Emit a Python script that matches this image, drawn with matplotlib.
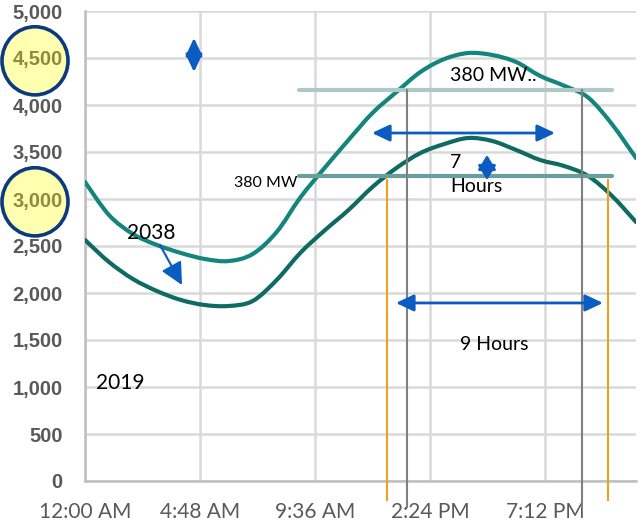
import matplotlib.pyplot as plt
import numpy as np
from matplotlib.path import Path
from matplotlib.patches import PathPatch, Ellipse

plt.rcParams['font.family'] = ['Lato', 'DejaVu Sans']

# hourly load (MW), hour of day 0..23
hours = np.arange(24)
load_2038 = [3181, 2830, 2628, 2511, 2426, 2362, 2340, 2415, 2649, 3020, 3330, 3628,
             3915, 4138, 4351, 4489, 4553, 4532, 4457, 4309, 4205, 4080, 3795, 3436]
load_2019 = [2564, 2330, 2149, 2021, 1926, 1872, 1862, 1915, 2138, 2430, 2665, 2883,
             3128, 3330, 3489, 3585, 3649, 3617, 3521, 3415, 3351, 3245, 3032, 2755]

# thresholds and the hours where the curves cross them
thresh_2038 = 4160
thresh_2019 = 3245
thresh_span = (8.93, 22.0)
cross_2038 = [13.44, 20.74]
cross_2019 = [12.6, 21.83]

xtick_hours = [0, 4.8, 9.6, 14.4, 19.2]
xtick_labels = ['12:00 AM', '4:48 AM', '9:36 AM', '2:24 PM', '7:12 PM']
yticks = list(range(0, 5001, 500))
highlight = [4500, 3000]

GRAY_TXT = '#595959'
BLUE = '#0b5cc2'


def smooth_path(x, y):
    # cubic bezier through the points, like a spreadsheet "smoothed line"
    pts = np.column_stack([x, y]).astype(float)
    n = len(pts)
    verts = [pts[0]]
    codes = [Path.MOVETO]
    for i in range(n - 1):
        p0 = pts[max(i - 1, 0)]
        p1 = pts[i]
        p2 = pts[i + 1]
        p3 = pts[min(i + 2, n - 1)]
        verts += [p1 + (p2 - p0) / 6, p2 - (p3 - p1) / 6, p2]
        codes += [Path.CURVE4] * 3
    return Path(verts, codes)


fig = plt.figure(figsize=(6.38, 5.25), dpi=100)
ax = fig.add_axes([85 / 638, 44 / 525, 551 / 638, 470 / 525])
ax.set_xlim(0, 23)
ax.set_ylim(0, 5000)

ax.set_xticks(xtick_hours, labels=xtick_labels)
ax.set_yticks(yticks, labels=[f'{v:,}' for v in yticks], fontweight='bold',
              family=['Liberation Sans', 'DejaVu Sans'])
ax.tick_params(axis='both', length=0)
ax.tick_params(axis='x', pad=15, labelsize=15, labelcolor=GRAY_TXT)
ax.tick_params(axis='y', pad=16, labelsize=14.5, labelcolor=GRAY_TXT)
for lbl in ax.get_yticklabels():
    if lbl.get_text() in [f'{v:,}' for v in highlight]:
        lbl.set_color('#8c8c3a')

ax.grid(True, color='#d9d9d9', linewidth=1.8)
for s in ['top', 'right']:
    ax.spines[s].set_visible(False)
for s in ['left', 'bottom']:
    ax.spines[s].set_color('#bfbfbf')
    ax.spines[s].set_linewidth(1.8)

# circled tick labels
for v in highlight:
    ax.add_patch(Ellipse((-50 / 551, v - 30), 66 / 551, 725, transform=ax.get_yaxis_transform(),
                         facecolor='#ffffb0', edgecolor='#0b3a7e', linewidth=2.6,
                         clip_on=False, zorder=1))

ax.add_patch(PathPatch(smooth_path(hours, load_2038), fill=False, edgecolor='#13857d',
                       linewidth=3, zorder=3, capstyle='round'))
ax.add_patch(PathPatch(smooth_path(hours, load_2019), fill=False, edgecolor='#0e6b62',
                       linewidth=3, zorder=3, capstyle='round'))

# threshold lines
ax.plot(thresh_span, [thresh_2038] * 2, color='#adc9c9', linewidth=3, solid_capstyle='round', zorder=4)
ax.plot(thresh_span, [thresh_2019] * 2, color='#6a9e9b', linewidth=3, solid_capstyle='round', zorder=4)

for h in cross_2038:
    ax.plot([h, h], [thresh_2038, -277], color='#808080', linewidth=1.5, clip_on=False, zorder=4)
for h in cross_2019:
    ax.plot([h, h], [thresh_2019 - 40, -200], color='#f0a020', linewidth=1.5, clip_on=False, zorder=4)

# arrows
dbl = dict(arrowstyle='<|-|>,head_length=0.72,head_width=0.34', color=BLUE, lw=2,
           mutation_scale=15, shrinkA=0, shrinkB=0)
ax.annotate('', xy=(11.98, 3702), xytext=(19.62, 3702), arrowprops=dbl, zorder=5)
ax.annotate('', xy=(12.98, 1894), xytext=(21.62, 1894), arrowprops=dbl, zorder=5)
small = dict(dbl, arrowstyle='<|-|>,head_length=0.58,head_width=0.36')
ax.annotate('', xy=(16.78, 3468), xytext=(16.78, 3202), arrowprops=small, zorder=5)
ax.annotate('', xy=(4.55, 4713), xytext=(4.55, 4351), arrowprops=dbl, zorder=5)
ax.annotate('', xy=(4.05, 2085), xytext=(3.13, 2511), zorder=5,
            arrowprops=dict(arrowstyle='-|>,head_length=0.9,head_width=0.45', color=BLUE,
                            lw=1.5, mutation_scale=15, shrinkA=0, shrinkB=0))

# text labels
ax.text(15.23, 4319, '380 MW..', fontsize=14, va='center', ha='left', zorder=6)
ax.text(15.23, 3383, '7', fontsize=14, va='center', ha='left', zorder=6)
ax.text(15.23, 3128, 'Hours', fontsize=14, va='center', ha='left', zorder=6)
ax.text(8.85, 3170, '380 MW', fontsize=11.5, va='center', ha='right', zorder=6)
ax.text(17.1, 1447, '9 Hours', fontsize=14, va='center', ha='center', zorder=6)
ax.text(2.76, 2638, '2038', fontsize=15, va='center', ha='center', zorder=6)
ax.text(1.46, 1043, '2019', fontsize=15, va='center', ha='center', zorder=6)

fig.savefig('out.png', dpi=100)
